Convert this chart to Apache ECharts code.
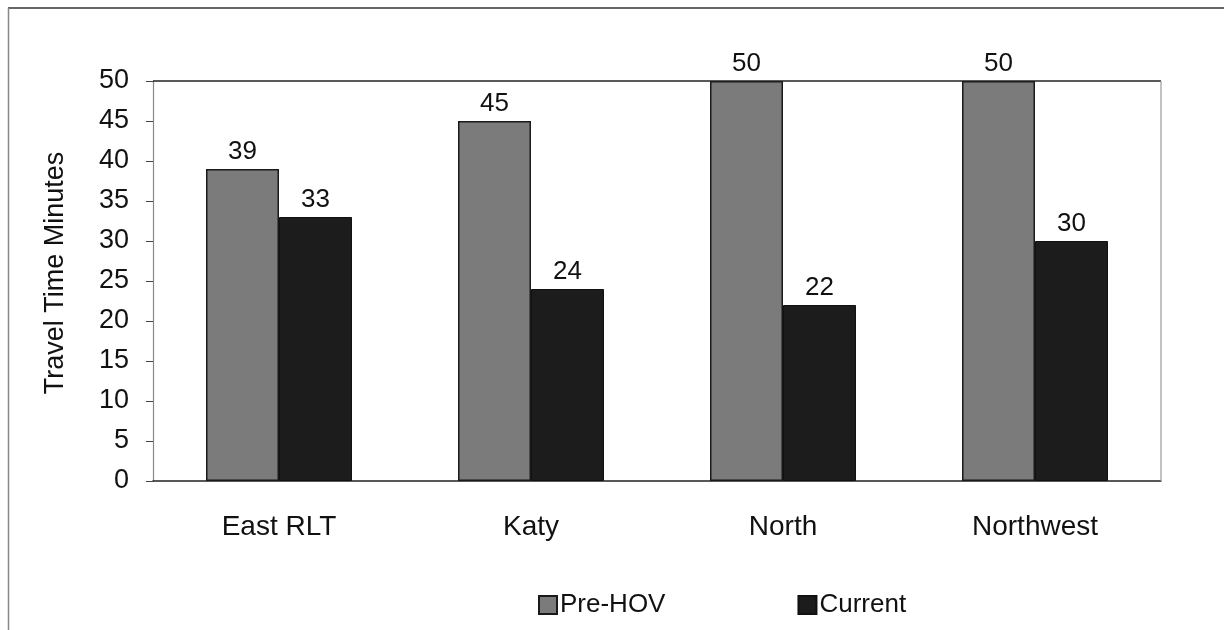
<!DOCTYPE html>
<html>
<head>
<meta charset="utf-8">
<script src="https://cdn.jsdelivr.net/npm/echarts@6/dist/echarts.min.js"></script>
<style>
html,body{margin:0;padding:0;background:#fff;}
#chart{width:1224px;height:630px;}
</style>
</head>
<body>
<div id="chart"></div>
<script>
const categories = ['East RLT', 'Katy', 'North', 'Northwest'];
const preHov = [39, 45, 50, 50];
const current = [33, 24, 22, 30];
const seriesNames = ['Pre-HOV', 'Current'];
const yTicks = [0, 5, 10, 15, 20, 25, 30, 35, 40, 45, 50];
const yTitle = 'Travel Time Minutes';

const FONT = '"Liberation Sans", Arial, sans-serif';
const chart = echarts.init(document.getElementById('chart'));
const labelStyle = {show: true, position: 'top', distance: 4, color: '#111', fontSize: 26, fontFamily: FONT};

chart.setOption({
  animation: false,
  backgroundColor: '#fff',
  textStyle: {fontFamily: FONT},
  graphic: [
    {type: 'line', shape: {x1: 8, y1: 8, x2: 1224, y2: 8}, style: {stroke: '#333', lineWidth: 1.5}},
    {type: 'line', shape: {x1: 8.5, y1: 8, x2: 8.5, y2: 630}, style: {stroke: '#888', lineWidth: 1.5}},
    {type: 'line', shape: {x1: 1161, y1: 81, x2: 1161, y2: 481}, style: {stroke: '#999', lineWidth: 1.2}, z: 10}
  ],
  grid: {left: 153, right: 63, top: 81, bottom: 149, show: false},
  legend: {
    left: 533, top: 587,
    itemWidth: 18, itemHeight: 18, itemGap: 132,
    icon: 'rect',
    textStyle: {fontSize: 26, color: '#111', fontFamily: FONT, padding: [0, 0, 0, -2]},
    data: seriesNames
  },
  xAxis: {
    type: 'category',
    data: categories,
    axisLine: {show: true, lineStyle: {color: '#222', width: 1.5}},
    axisTick: {show: false},
    axisLabel: {fontSize: 28, color: '#111', margin: 32, fontFamily: FONT},
    splitLine: {show: false}
  },
  yAxis: {
    type: 'value',
    min: 0, max: 50, interval: 5,
    name: yTitle,
    nameLocation: 'middle',
    nameGap: 84,
    nameTextStyle: {fontSize: 27, color: '#111', fontFamily: FONT, padding: [0, 0, 0, 16]},
    axisLine: {show: true, lineStyle: {color: '#888', width: 1.2}},
    axisTick: {show: true, inside: false, length: 7, lineStyle: {color: '#444'}},
    axisLabel: {fontSize: 27, color: '#111', margin: 24, fontFamily: FONT,
      formatter: v => yTicks.includes(v) ? String(v) : ''},
    splitLine: {show: false}
  },
  series: [
    {
      name: seriesNames[0], type: 'bar', data: preHov,
      barWidth: 73, barGap: '0%',
      itemStyle: {color: '#7b7b7b', borderColor: '#1a1a1a', borderWidth: 1.5},
      label: labelStyle
    },
    {
      name: seriesNames[1], type: 'bar', data: current,
      barWidth: 73,
      itemStyle: {color: '#1c1c1c', borderColor: '#111', borderWidth: 1},
      label: labelStyle,
      markLine: {
        silent: true, symbol: 'none', label: {show: false},
        lineStyle: {color: '#222', type: 'solid', width: 1.5},
        data: [{yAxis: 50}]
      }
    }
  ]
});
</script>
</body>
</html>
